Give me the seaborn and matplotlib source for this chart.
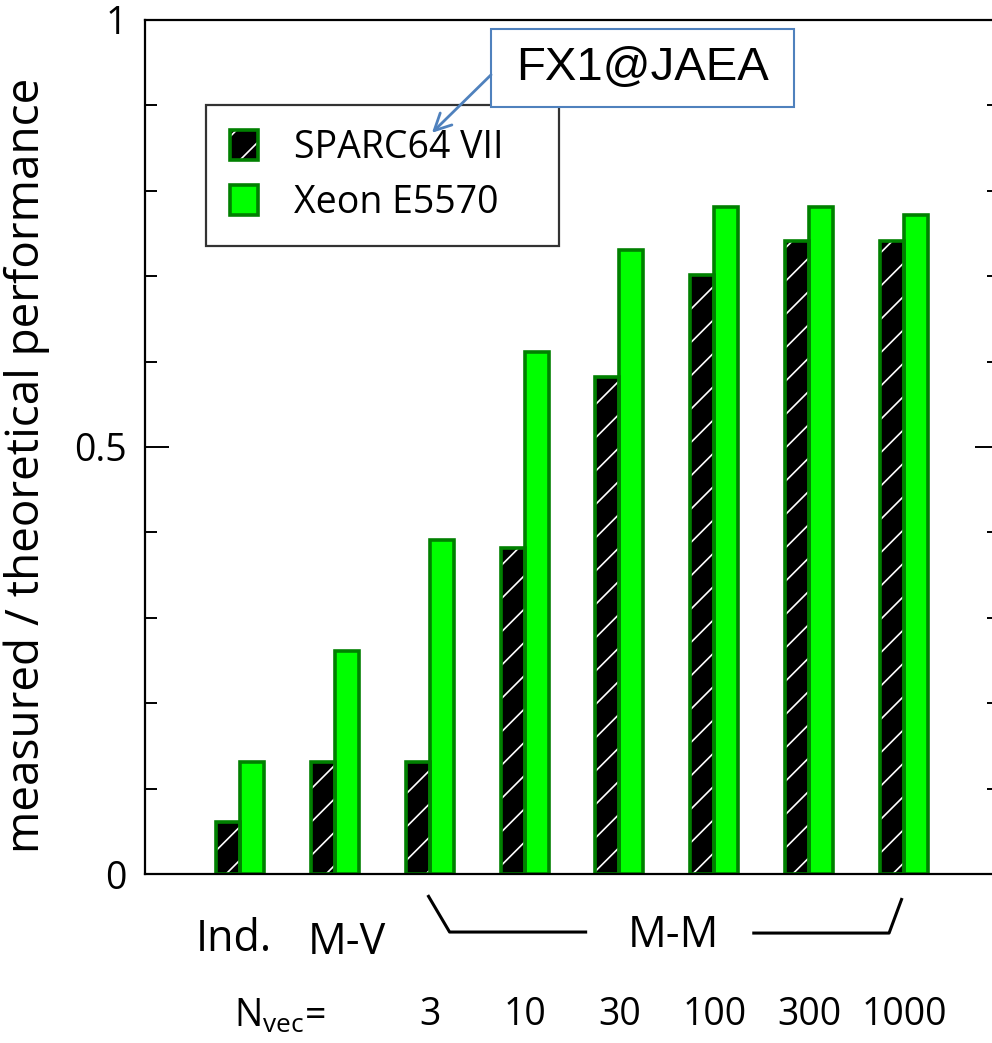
import matplotlib
matplotlib.use("Agg")
import matplotlib.pyplot as plt
from matplotlib.patches import Patch, Rectangle
from matplotlib.ticker import MultipleLocator, FixedLocator
import matplotlib.transforms as mtransforms
import seaborn as sns
import pandas as pd

# ---- data -------------------------------------------------------------
groups = ["Ind.", "M-V", "3", "10", "30", "100", "300", "1000"]
sparc64_vii = [0.061, 0.131, 0.131, 0.382, 0.582, 0.701, 0.741, 0.741]
xeon_e5570 = [0.131, 0.261, 0.391, 0.611, 0.731, 0.781, 0.781, 0.772]
series_names = ["SPARC64 VII", "Xeon E5570"]
kind_labels = ["Ind.", "M-V"]
nvec_labels = ["3", "10", "30", "100", "300", "1000"]

df = pd.DataFrame({
    "group": groups * 2,
    "cpu": [series_names[0]] * len(groups) + [series_names[1]] * len(groups),
    "ratio": sparc64_vii + xeon_e5570,
})

# ---- style ------------------------------------------------------------
sns.set_theme(style="white")
FONT = "Open Sans"
plt.rcParams["font.family"] = [FONT, "DejaVu Sans"]
plt.rcParams["mathtext.fontset"] = "custom"
plt.rcParams["mathtext.rm"] = FONT
plt.rcParams["mathtext.it"] = FONT
plt.rcParams["hatch.linewidth"] = 1.2

EDGE = "#008000"
GREEN = "#00ff00"
BLUE = "#4f81bd"

fig = plt.figure(figsize=(9.92, 10.43), dpi=100)
ax = fig.add_axes([0.1462, 0.162, 0.8608, 0.819])

sns.barplot(data=df, x="group", y="ratio", hue="cpu", order=groups,
            hue_order=series_names,
            palette={series_names[0]: "black", series_names[1]: GREEN},
            width=0.505, edgecolor=EDGE, linewidth=2.6, saturation=1,
            legend=False, ax=ax)

# hatched SPARC bars: black body, white diagonal hatch, green outline
sparc_bars = ax.containers[0]
for p in sparc_bars:
    p.set_edgecolor("none")
    x0, y0 = p.get_xy()
    w, h = p.get_width(), p.get_height()
    ax.add_patch(Rectangle((x0, y0), w, h, facecolor="none", edgecolor="white",
                           hatch="/", linewidth=0, zorder=p.get_zorder() + 0.1))
    ax.add_patch(Rectangle((x0, y0), w, h, facecolor="none", edgecolor=EDGE,
                           linewidth=2.6, zorder=p.get_zorder() + 0.2))

# ---- axes -------------------------------------------------------------
ax.set_xlim(-1, 8)
ax.set_ylim(0, 1)
ax.set_xlabel("")
ax.set_xticks([])
ax.yaxis.set_major_locator(FixedLocator([0, 0.5, 1]))
ax.set_yticklabels(["0", "0.5", "1"])
ax.yaxis.set_minor_locator(MultipleLocator(0.1))
ax.tick_params(axis="y", which="both", direction="in", left=True, right=True,
               labelsize=27, pad=13, colors="black", width=1.4)
ax.tick_params(axis="y", which="major", length=17)
ax.tick_params(axis="y", which="minor", length=8.6)
for s in ax.spines.values():
    s.set_color("black")
    s.set_linewidth(1.6)
ax.spines["right"].set_visible(True)

ax.set_ylabel("measured / theoretical performance", fontsize=33, color="black")
ax.yaxis.set_label_coords(-0.111, 0.478)

# ---- legend -----------------------------------------------------------
h_sparc = (Patch(facecolor="black", edgecolor="none"),
           Patch(facecolor="none", edgecolor="white", hatch="/", linewidth=0),
           Patch(facecolor="none", edgecolor=EDGE, linewidth=2.6))
h_xeon = Patch(facecolor=GREEN, edgecolor=EDGE, linewidth=2.6)
leg = ax.legend([h_sparc, h_xeon], series_names, loc="upper left",
                bbox_to_anchor=(0.0714, 0.7, 0.4133, 0.2005), mode="expand",
                fontsize=27, frameon=True, fancybox=False, edgecolor="black",
                handlelength=0.75, handleheight=0.85, handletextpad=0.95,
                borderpad=0.65, labelspacing=0.44, borderaxespad=0)
leg.get_frame().set_linewidth(1.6)
for t in leg.get_texts():
    t.set_color("black")

# ---- callout ----------------------------------------------------------
ax.add_patch(Rectangle((0.4052, 0.898), 0.3548, 0.0913, transform=ax.transAxes,
                       facecolor="white", edgecolor=BLUE, linewidth=1.5,
                       clip_on=False, zorder=6))
ax.text(0.5826, 0.9438, "FX1@JAEA", transform=ax.transAxes, ha="center",
        va="center", fontsize=34, family=["Liberation Sans", "DejaVu Sans"],
        color="black", zorder=7)
ax.annotate("", xy=(0.336, 0.8677), xycoords="axes fraction",
            xytext=(0.4052, 0.9356), textcoords="axes fraction",
            arrowprops=dict(arrowstyle="->", color=BLUE, lw=2,
                            mutation_scale=30, shrinkA=0, shrinkB=0),
            zorder=7)

# ---- category annotations under the axis ------------------------------
xt = mtransforms.blended_transform_factory(ax.transData, ax.transAxes)
ax.text(-0.06, -0.077, kind_labels[0], transform=xt, ha="center", va="center",
        fontsize=31, color="black")
ax.text(1.13, -0.080, kind_labels[1], transform=xt, ha="center", va="center",
        fontsize=31, color="black")

# bracket spanning the matrix-matrix groups
first_mm, last_mm = 2, 7
ax.plot([first_mm - 0.02, first_mm + 0.21, first_mm + 1.66],
        [-0.0246, -0.0679, -0.0679], transform=xt, color="black", lw=2.2,
        clip_on=False, solid_capstyle="butt")
ax.plot([last_mm - 1.6, last_mm - 0.158, last_mm - 0.021],
        [-0.0691, -0.0691, -0.0281], transform=xt, color="black", lw=2.2,
        clip_on=False, solid_capstyle="butt")
ax.text(4.57, -0.072, "M-M", transform=xt, ha="center", va="center",
        fontsize=31, color="black")

ax.text(0.42, -0.167, r"N$_{\mathrm{vec}}$=", transform=xt, ha="center",
        va="center", fontsize=27, color="black")
for lab in nvec_labels:
    ax.text(groups.index(lab), -0.165, lab, transform=xt, ha="center",
            va="center", fontsize=27, color="black")

fig.savefig("out.png", dpi=100)
